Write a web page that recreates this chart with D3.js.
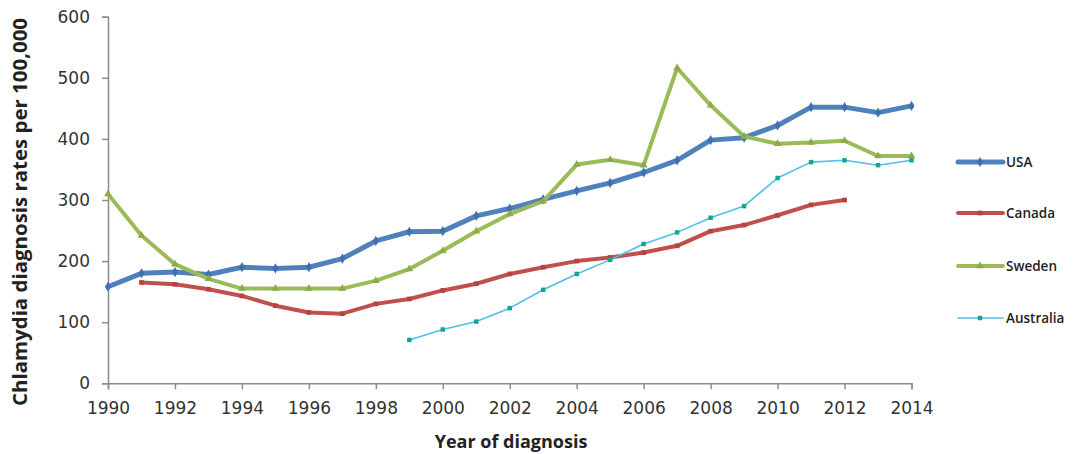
<!DOCTYPE html>
<html><head><meta charset="utf-8">
<script src="https://cdn.jsdelivr.net/npm/d3@7"></script>
<style>html,body{margin:0;padding:0;background:#fff;}svg{display:block;}</style>
</head><body>
<svg id="chart" width="1073" height="454"></svg>
<script>
const years = [1990,1991,1992,1993,1994,1995,1996,1997,1998,1999,2000,2001,2002,2003,2004,2005,2006,2007,2008,2009,2010,2011,2012,2013,2014];
const usa = [158,180,182,178,190,188,190,204,233,248,249,274,286,301,315,328,345,365,398,402,422,452,452,443,454];
const canada = [null,165,162,154,143,127,116,114,130,138,152,163,179,190,200,206,214,225,249,259,275,292,300,null,null];
const sweden = [310,242,195,171,155,155,155,155,168,187,217,249,277,298,358,366,357,516,455,404,392,394,397,372,372];
const australia = [null,null,null,null,null,null,null,null,null,71,88,101,123,153,179,202,228,247,271,290,336,362,365,357,365];
const xTicks = [1990,1992,1994,1996,1998,2000,2002,2004,2006,2008,2010,2012,2014];
const yTicks = [0,100,200,300,400,500,600];
const seriesNames = ["USA","Canada","Sweden","Australia"];

const svg = d3.select("#chart");
const x = d3.scaleLinear().domain([1990,2014]).range([108,911.5]);
const y = d3.scaleLinear().domain([0,600]).range([383.3,16.7]);
const axisColor = "#8c8c8c";
const tickFont = "'DejaVu Sans', sans-serif";
const titleFont = "'Open Sans', sans-serif";

// Y axis
const ya = svg.append("g").attr("transform","translate(108,0)")
  .call(d3.axisLeft(y).tickValues(yTicks).tickSize(6).tickPadding(12));
ya.select(".domain").attr("stroke",axisColor).attr("stroke-width",1.5);
ya.selectAll(".tick line").attr("stroke",axisColor).attr("stroke-width",1.5);
ya.selectAll(".tick text").attr("fill","#333").style("font-family",tickFont).style("font-size","17px");

// X axis
const xa = svg.append("g").attr("transform","translate(0,383.3)")
  .call(d3.axisBottom(x).tickValues(xTicks).tickFormat(d3.format("d")).tickSize(6).tickPadding(13));
xa.select(".domain").attr("stroke",axisColor).attr("stroke-width",1.5);
xa.selectAll(".tick line").attr("stroke",axisColor).attr("stroke-width",1.5);
xa.selectAll(".tick text").attr("fill","#333").style("font-family",tickFont).style("font-size","17px");

// Axis titles
svg.append("text").attr("transform","translate(27,212) rotate(-90)")
  .attr("text-anchor","middle").style("font-family",titleFont).style("font-weight","bold")
  .style("font-size","19px").attr("textLength",388).attr("lengthAdjust","spacingAndGlyphs")
  .attr("fill","#222").text("Chlamydia diagnosis  rates per 100,000");
svg.append("text").attr("x",511).attr("y",448).attr("text-anchor","middle")
  .style("font-family",titleFont).style("font-weight","bold").style("font-size","18px")
  .attr("fill","#222").text("Year of diagnosis");

const series = [
  {name:"USA", values:usa, color:"#4F81BD", width:5, marker:"diamond", mcolor:"#3f6fae", msize:30},
  {name:"Canada", values:canada, color:"#C0504D", width:4, marker:"square", mcolor:"#b8403d", msize:22},
  {name:"Sweden", values:sweden, color:"#9BBB59", width:4, marker:"triangle", mcolor:"#8aab48", msize:26},
  {name:"Australia", values:australia, color:"#4BC0E8", width:1.6, marker:"square", mcolor:"#16a68c", msize:20}
];
const symMap = {diamond:d3.symbolDiamond, square:d3.symbolSquare, triangle:d3.symbolTriangle};

const line = d3.line().defined(d=>d.v!=null).x(d=>x(d.year)).y(d=>y(d.v));
series.forEach(s=>{
  const pts = years.map((yr,i)=>({year:yr, v:s.values[i]}));
  svg.append("path").datum(pts).attr("d",line).attr("fill","none")
    .attr("stroke",s.color).attr("stroke-width",s.width).attr("stroke-linejoin","round").attr("stroke-linecap","round");
  svg.append("g").selectAll("path").data(pts.filter(d=>d.v!=null)).join("path")
    .attr("transform",d=>`translate(${x(d.year)},${y(d.v)})`)
    .attr("d",d3.symbol().type(symMap[s.marker]).size(s.msize))
    .attr("fill",s.mcolor);
});

// Legend
const legY = [162,213,266,318];
series.forEach((s,i)=>{
  const g = svg.append("g").attr("transform",`translate(0,${legY[i]})`);
  g.append("line").attr("x1",958).attr("x2",1003).attr("y1",0).attr("y2",0)
    .attr("stroke",s.color).attr("stroke-width",s.width).attr("stroke-linecap","round");
  g.append("path").attr("transform","translate(980,0)")
    .attr("d",d3.symbol().type(symMap[s.marker]).size(s.msize)).attr("fill",s.mcolor);
  g.append("text").attr("x",1006).attr("y",4.5).style("font-family",titleFont)
    .style("font-size","13.5px").style("font-weight","600").attr("fill","#222").text(seriesNames[i]);
});
</script>
</body></html>
